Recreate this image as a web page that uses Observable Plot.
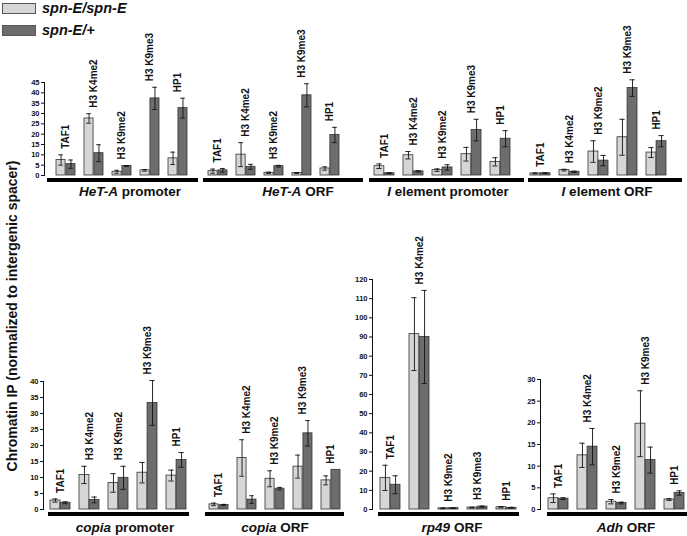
<!DOCTYPE html>
<html><head><meta charset="utf-8">
<script src="https://cdn.jsdelivr.net/npm/d3@7"></script>
<script src="https://cdn.jsdelivr.net/npm/@observablehq/plot@0.6"></script>
<style>
body{margin:0;background:#fff;}
#root{position:relative;width:687px;height:536px;overflow:hidden;font-family:"Liberation Sans",Arial,sans-serif;color:#111;}
#root svg{position:absolute;left:0;}
.pname{position:absolute;font-weight:bold;font-size:13.5px;white-space:nowrap;transform:translate(-50%,-50%);}
.ytitle{position:absolute;font-weight:bold;font-size:14px;white-space:nowrap;transform:translate(-50%,-50%) rotate(-90deg);}
.leg{position:absolute;left:2px;display:flex;align-items:center;font-weight:bold;font-style:italic;font-size:14.5px;white-space:nowrap;}
.sw{width:34px;height:11px;border:1px solid #555;margin-right:6px;box-sizing:border-box;}
</style></head><body><div id="root"></div>
<script>
// ---------- data ----------
const groups = ["TAF1", "H3 K4me2", "H3 K9me2", "H3 K9me3", "HP1"];
const seriesNames = ["spn-E/spn-E", "spn-E/+"];
const panelGenes = ["HeT-A", "HeT-A", "I", "I", "copia", "copia", "rp49", "Adh"];
const panelRegions = [" promoter", " ORF", " element promoter", " element ORF", " promoter", " ORF", " ORF", " ORF"];
const yTitle = "Chromatin IP (normalized to intergenic spacer)";

const hetAPromoterMut = [7.5, 27.6, 1.8, 2.5, 8.3];
const hetAPromoterMutErr = [2.5, 2.3, 0.7, 0.4, 3.0];
const hetAPromoterHet = [5.5, 10.8, 4.6, 37.3, 32.6];
const hetAPromoterHetErr = [2.0, 4.1, 0.2, 5.4, 4.8];

const hetAOrfMut = [2.1, 10.1, 1.3, 1.2, 3.4];
const hetAOrfMutErr = [1.0, 5.8, 0.3, 0.2, 0.8];
const hetAOrfHet = [2.5, 4.2, 4.5, 38.8, 19.6];
const hetAOrfHetErr = [0.9, 1.2, 0.4, 5.6, 3.7];

const iPromoterMut = [4.5, 9.8, 2.6, 10.3, 6.6];
const iPromoterMutErr = [1.1, 1.8, 0.6, 3.3, 2.0];
const iPromoterHet = [1.1, 2.0, 3.9, 22.0, 17.8];
const iPromoterHetErr = [0.2, 0.3, 1.3, 5.2, 3.9];

const iOrfMut = [1.0, 2.6, 11.6, 18.5, 11.1];
const iOrfMutErr = [0.2, 0.4, 5.2, 8.7, 2.4];
const iOrfHet = [1.1, 1.8, 7.2, 42.3, 16.6];
const iOrfHetErr = [0.2, 0.3, 2.5, 4.0, 2.7];

const copiaPromoterMut = [2.8, 10.8, 8.3, 11.5, 10.6];
const copiaPromoterMutErr = [0.5, 2.7, 2.9, 3.2, 1.7];
const copiaPromoterHet = [2.1, 3.0, 9.9, 33.3, 15.5];
const copiaPromoterHetErr = [0.3, 0.9, 3.6, 7.0, 2.3];

const copiaOrfMut = [1.6, 16.1, 9.6, 13.4, 9.1];
const copiaOrfMutErr = [0.4, 5.7, 2.5, 3.6, 1.4];
const copiaOrfHet = [1.4, 3.1, 6.5, 23.8, 12.4];
const copiaOrfHetErr = [0.2, 1.2, 0.4, 4.0, 0];

const rp49Mut = [16.5, 91.5, 0.6, 1.0, 1.2];
const rp49MutErr = [6.6, 19.0, 0.2, 0.2, 0.3];
const rp49Het = [12.9, 90.0, 0.7, 1.5, 0.9];
const rp49HetErr = [4.7, 24.3, 0.2, 0.3, 0.2];

const adhMut = [2.6, 12.5, 1.8, 19.8, 2.3];
const adhMutErr = [1.0, 2.8, 0.5, 7.6, 0.2];
const adhHet = [2.5, 14.5, 1.5, 11.4, 3.8];
const adhHetErr = [0.2, 4.2, 0.2, 3.0, 0.5];

const ticksTop = [0, 5, 10, 15, 20, 25, 30, 35, 40, 45];
const ticksCopia = [0, 5, 10, 15, 20, 25, 30, 35, 40];
const ticksRp49 = [0, 10, 20, 30, 40, 50, 60, 70, 80, 90, 100, 110, 120];
const ticksAdh = [0, 5, 10, 15, 20, 25, 30];

// ---------- layout ----------
const LIGHT = "#d6d6d6", DARK = "#6d6d6d", EDGE = "#333";
const root = document.getElementById("root");
const rows = [
  {top: 0, height: 185, y0: 175, nameDy: 15.5},
  {top: 215, height: 304, y0: 294, nameDy: 18}
];
const panels = [
  {row: 0, mut: hetAPromoterMut, mutErr: hetAPromoterMutErr, het: hetAPromoterHet, hetErr: hetAPromoterHetErr, ymax: 45, yTop: 82, ticks: ticksTop, axisX: 44, base: [47, 198], bars: [54, 189], name: 0, nameX: 130},
  {row: 0, mut: hetAOrfMut, mutErr: hetAOrfMutErr, het: hetAOrfHet, hetErr: hetAOrfHetErr, ymax: 45, yTop: 82, ticks: null, base: [203, 363], bars: [207, 341], name: 1, nameX: 298},
  {row: 0, mut: iPromoterMut, mutErr: iPromoterMutErr, het: iPromoterHet, hetErr: iPromoterHetErr, ymax: 45, yTop: 82, ticks: null, base: [369, 524], bars: [373, 511], name: 2, nameX: 448},
  {row: 0, mut: iOrfMut, mutErr: iOrfMutErr, het: iOrfHet, hetErr: iOrfHetErr, ymax: 45, yTop: 82, ticks: null, base: [528, 682], bars: [530, 667], name: 3, nameX: 607},
  {row: 1, mut: copiaPromoterMut, mutErr: copiaPromoterMutErr, het: copiaPromoterHet, hetErr: copiaPromoterHetErr, ymax: 40, yTop: 166, ticks: ticksCopia, axisX: 43, base: [48, 189], bars: [50, 187], name: 4, nameX: 125},
  {row: 1, mut: copiaOrfMut, mutErr: copiaOrfMutErr, het: copiaOrfHet, hetErr: copiaOrfHetErr, ymax: 40, yTop: 166, ticks: null, base: [205, 344], bars: [207, 342], name: 5, nameX: 275},
  {row: 1, mut: rp49Mut, mutErr: rp49MutErr, het: rp49Het, hetErr: rp49HetErr, ymax: 120, yTop: 64, ticks: ticksRp49, axisX: 372, base: [378, 519], bars: [379, 517], name: 6, nameX: 452},
  {row: 1, mut: adhMut, mutErr: adhMutErr, het: adhHet, hetErr: adhHetErr, ymax: 30, yTop: 164, ticks: ticksAdh, axisX: 540, base: [547, 687], bars: [548, 685], name: 7, nameX: 626}
];

const P = 0.31;
panels.forEach(p => {
  const r = rows[p.row];
  const step = (p.bars[1] - p.bars[0]) / (groups.length - P);
  const bw = step * (1 - P);
  const pxPerUnit = (r.y0 - p.yTop) / p.ymax;
  const data = groups.map((g, i) => ({
    group: g,
    m: p.mut[i], me: p.mutErr[i], h: p.het[i], he: p.hetErr[i],
    label: Math.max(p.mut[i] + p.mutErr[i], p.het[i] + p.hetErr[i]) + 6 / pxPerUnit
  }));
  const frameLeft = p.ticks ? p.axisX : p.base[0];
  const frameRight = p.base[1];
  const capW = 5.5;
  const errStyle = {stroke: "#111", strokeWidth: 0.9};
  const marks = [
    Plot.ruleY([0], {stroke: "#000", strokeWidth: 4, dy: 4.5, insetLeft: p.base[0] - frameLeft}),
    Plot.barY(data, {x: "group", y: "m", fill: LIGHT, stroke: EDGE, strokeWidth: 0.8, insetRight: bw / 2}),
    Plot.barY(data, {x: "group", y: "h", fill: DARK, stroke: EDGE, strokeWidth: 0.8, insetLeft: bw / 2}),
    Plot.ruleX(data.filter(d => d.me > 0), {x: "group", y1: d => d.m - d.me, y2: d => d.m + d.me, dx: -bw / 4, ...errStyle}),
    Plot.ruleX(data.filter(d => d.he > 0), {x: "group", y1: d => d.h - d.he, y2: d => d.h + d.he, dx: bw / 4, ...errStyle}),
    Plot.tickY(data.filter(d => d.me > 0), {x: "group", y: d => d.m + d.me, insetLeft: bw / 4 - capW / 2, insetRight: 3 * bw / 4 - capW / 2, ...errStyle}),
    Plot.tickY(data.filter(d => d.me > 0), {x: "group", y: d => d.m - d.me, insetLeft: bw / 4 - capW / 2, insetRight: 3 * bw / 4 - capW / 2, ...errStyle}),
    Plot.tickY(data.filter(d => d.he > 0), {x: "group", y: d => d.h + d.he, insetLeft: 3 * bw / 4 - capW / 2, insetRight: bw / 4 - capW / 2, ...errStyle}),
    Plot.tickY(data.filter(d => d.he > 0), {x: "group", y: d => d.h - d.he, insetLeft: 3 * bw / 4 - capW / 2, insetRight: bw / 4 - capW / 2, ...errStyle}),
    Plot.text(data, {x: "group", y: "label", text: "group", rotate: -90, textAnchor: "start", fontSize: 10, fontWeight: "bold", fill: "#111"})
  ];
  const svg = Plot.plot({
    width: 687,
    height: r.height,
    marginLeft: frameLeft,
    marginRight: 687 - frameRight,
    marginTop: p.yTop,
    marginBottom: r.height - r.y0,
    x: {domain: groups, range: p.bars, paddingInner: P, paddingOuter: 0, axis: null},
    y: p.ticks
      ? {domain: [0, p.ymax], range: [r.y0, p.yTop], ticks: p.ticks, tickSize: 3, tickPadding: 2, line: true, label: null, axis: "left"}
      : {domain: [0, p.ymax], range: [r.y0, p.yTop], axis: null},
    style: {background: "transparent", overflow: "visible", fontFamily: "Liberation Sans, Arial, sans-serif", fontSize: "7.5px", fontWeight: "bold", color: "#111"},
    marks
  });
  svg.style.position = "absolute";
  svg.style.top = r.top + "px";
  svg.style.left = "0px";
  svg.style.maxWidth = "none";
  root.appendChild(svg);

  const nm = document.createElement("div");
  nm.className = "pname";
  nm.style.left = p.nameX + "px";
  nm.style.top = (r.top + r.y0 + r.nameDy) + "px";
  const it = document.createElement("i");
  it.textContent = panelGenes[p.name];
  nm.appendChild(it);
  nm.appendChild(document.createTextNode(panelRegions[p.name]));
  root.appendChild(nm);
});

// y title
const yt = document.createElement("div");
yt.className = "ytitle";
yt.style.left = "12px";
yt.style.top = "316px";
yt.textContent = yTitle;
root.appendChild(yt);

// legend
[[LIGHT, 8], [DARK, 30]].forEach(([c, y], i) => {
  const lg = document.createElement("div");
  lg.className = "leg";
  lg.style.top = (y - 8) + "px";
  const sw = document.createElement("div");
  sw.className = "sw";
  sw.style.background = c;
  lg.appendChild(sw);
  lg.appendChild(document.createTextNode(seriesNames[i]));
  root.appendChild(lg);
});
</script></body></html>
